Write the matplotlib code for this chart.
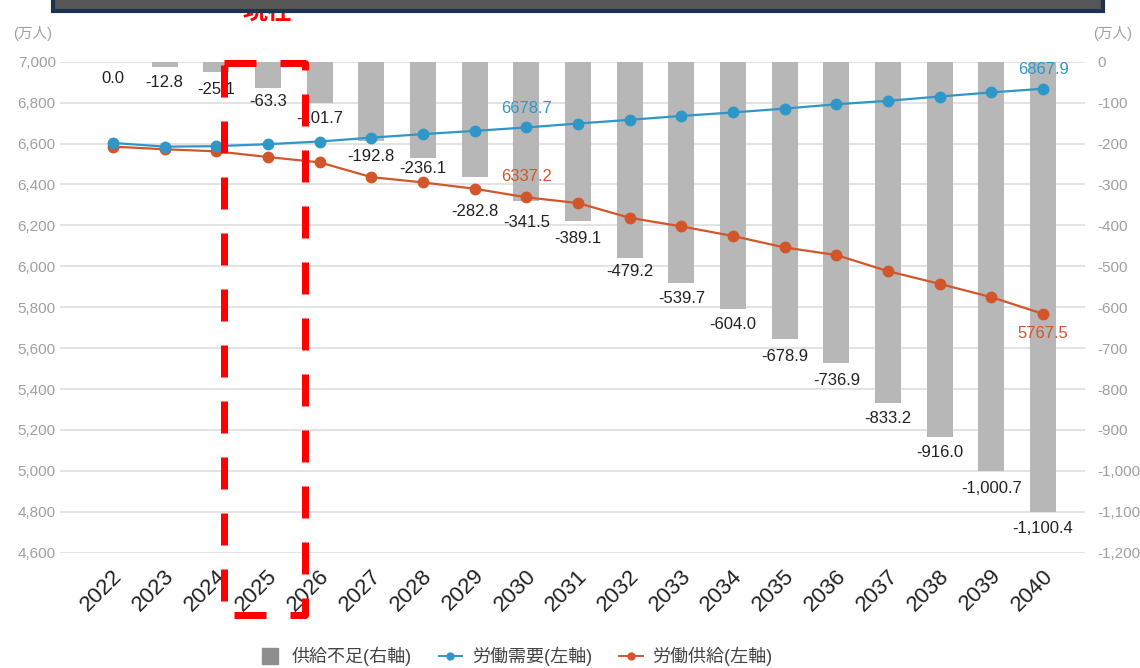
import matplotlib
matplotlib.use("Agg")
import matplotlib.pyplot as plt
import matplotlib.transforms as mtransforms
from matplotlib.lines import Line2D
from matplotlib.patches import Rectangle

plt.rcParams['font.family'] = ['Liberation Sans', 'Noto Sans CJK JP', 'DejaVu Sans']

years = ['2022', '2023', '2024', '2025', '2026', '2027', '2028', '2029', '2030', '2031',
         '2032', '2033', '2034', '2035', '2036', '2037', '2038', '2039', '2040']
shortage = [0.0, -12.8, -25.1, -63.3, -101.7, -192.8, -236.1, -282.8, -341.5, -389.1,
            -479.2, -539.7, -604.0, -678.9, -736.9, -833.2, -916.0, -1000.7, -1100.4]
demand = [6603, 6585, 6587, 6597, 6610, 6629, 6646, 6662, 6678.7, 6698,
          6716, 6735, 6752, 6771, 6792, 6809, 6830, 6850, 6867.9]
supply = [6585, 6572, 6562, 6534, 6508, 6436, 6410, 6379, 6337.2, 6309,
          6237, 6195, 6148, 6092, 6055, 5976, 5914, 5849, 5767.5]
left_ticks = list(range(4600, 7001, 200))
right_ticks = list(range(-1200, 1, 100))
legend_labels = ['供給不足(右軸)', '労働需要(左軸)', '労働供給(左軸)']

# styling: vertical distance (px) from bar end to label centre
label_gap_px = [17, 16, 18, 14, 15, 16, 10, 34, 21, 18, 14, 16, 16, 17, 17, 16, 16, 17, 17]

BLUE = '#2F97C7'
ORANGE = '#D3562A'
BAR = '#b7b7b7'
GRID = '#dedede'
TICKGRAY = '#a0a0a0'

fig = plt.figure(figsize=(11.4, 6.68), dpi=100)
ax = fig.add_axes([0.0526, 0.1726, 0.8991, 0.735])
ax2 = ax.twinx()

x = list(range(len(years)))

# bars on right axis
ax2.bar(x, shortage, width=0.5, color=BAR, zorder=2)
ax2.set_ylim(-1200, 0)
ax2.set_yticks(right_ticks)
ax2.set_yticklabels([f'{v:,}' for v in right_ticks])
ax2.set_axisbelow(True)
ax2.grid(axis='y', color=GRID, linewidth=1.2)
for xi, v, g in zip(x, shortage, label_gap_px):
    ax2.annotate(f'{v:,.1f}', (xi, v), xytext=(0, -g * 0.72), textcoords='offset points',
                 ha='center', va='center', fontsize=12, color='#222222')

# lines on left axis (drawn above bars)
ax.set_zorder(ax2.get_zorder() + 1)
ax.patch.set_visible(False)
ax.plot(x, demand, color=BLUE, lw=1.6, marker='o', markersize=7.5, zorder=4)
ax.plot(x, supply, color=ORANGE, lw=1.6, marker='o', markersize=7.5, zorder=3)
ax.set_ylim(4600, 7000)
ax.set_yticks(left_ticks)
ax.set_yticklabels([f'{v:,}' for v in left_ticks])
ax.set_xlim(-1.026, 18.81)
ax.set_xticks(x)
ax.set_xticklabels(years)

for idx in (8, 18):
    ax.annotate(f'{demand[idx]:.1f}', (idx, demand[idx]), xytext=(0, 13.5), textcoords='offset points',
                ha='center', va='center', fontsize=12, color=BLUE)
ax.annotate(f'{supply[8]:.1f}', (8, supply[8]), xytext=(0, 15), textcoords='offset points',
            ha='center', va='center', fontsize=12, color=ORANGE)
ax.annotate(f'{supply[18]:.1f}', (18, supply[18]), xytext=(0, -14), textcoords='offset points',
            ha='center', va='center', fontsize=12, color=ORANGE)

for a in (ax, ax2):
    for s in a.spines.values():
        s.set_visible(False)

ax.tick_params(axis='y', length=0, pad=3, labelsize=11, labelcolor=TICKGRAY)
ax2.tick_params(axis='y', length=0, pad=9, labelsize=11, labelcolor=TICKGRAY)
ax.tick_params(axis='x', length=0, pad=9, labelsize=16, labelcolor='#222222')
offset = mtransforms.ScaledTranslation(-0.01, 0, fig.dpi_scale_trans)
for lab in ax.get_xticklabels():
    lab.set_rotation(45)
    lab.set_ha('right')
    lab.set_va('top')
    lab.set_rotation_mode('anchor')
    lab.set_transform(lab.get_transform() + offset)

# unit labels
fig.text(13 / 1140, 1 - 33.5 / 668, '(万人)', fontsize=10.5, color=TICKGRAY, ha='left', va='center')
fig.text(1093 / 1140, 1 - 33.5 / 668, '(万人)', fontsize=10.5, color=TICKGRAY, ha='left', va='center')

# legend
handles = [
    Line2D([], [], marker='s', markersize=11, color='#8e8e8e', linestyle='None'),
    Line2D([], [], marker='o', markersize=5, color=BLUE, lw=1.4),
    Line2D([], [], marker='o', markersize=5, color=ORANGE, lw=1.4),
]
fig.legend(handles, legend_labels, loc='center', bbox_to_anchor=(0.452, 0.017), ncol=3,
           frameon=False, fontsize=13, handlelength=1.3, handletextpad=0.55,
           columnspacing=1.5, labelcolor='#444444')

# header box (cropped) and "現在" label
fig.text(268 / 1140, 1 - 12 / 668, '現在', fontsize=18, fontweight='bold', color='#ff0000',
         ha='center', va='center', zorder=5)
fig.add_artist(Rectangle((53 / 1140, 1 - 11 / 668), (1103 - 53) / 1140, 0.05,
                         transform=fig.transFigure, facecolor='#575757', edgecolor='#1d3152',
                         linewidth=3, zorder=10))

# red dashed frame (clockwise from top-left)
W, H = 1140.0, 668.0
px = [223.5, 305, 305, 223.5, 223.5]
py = [63, 63, 615, 615, 63]
frame = Line2D([v / W for v in px], [1 - v / H for v in py], transform=fig.transFigure,
               color='#ff0000', lw=5.04, linestyle=(0, (32 / 7, 24 / 7)),
               dash_joinstyle='round', dash_capstyle='butt', zorder=20)
fig.add_artist(frame)

fig.savefig('out.png', dpi=100)
